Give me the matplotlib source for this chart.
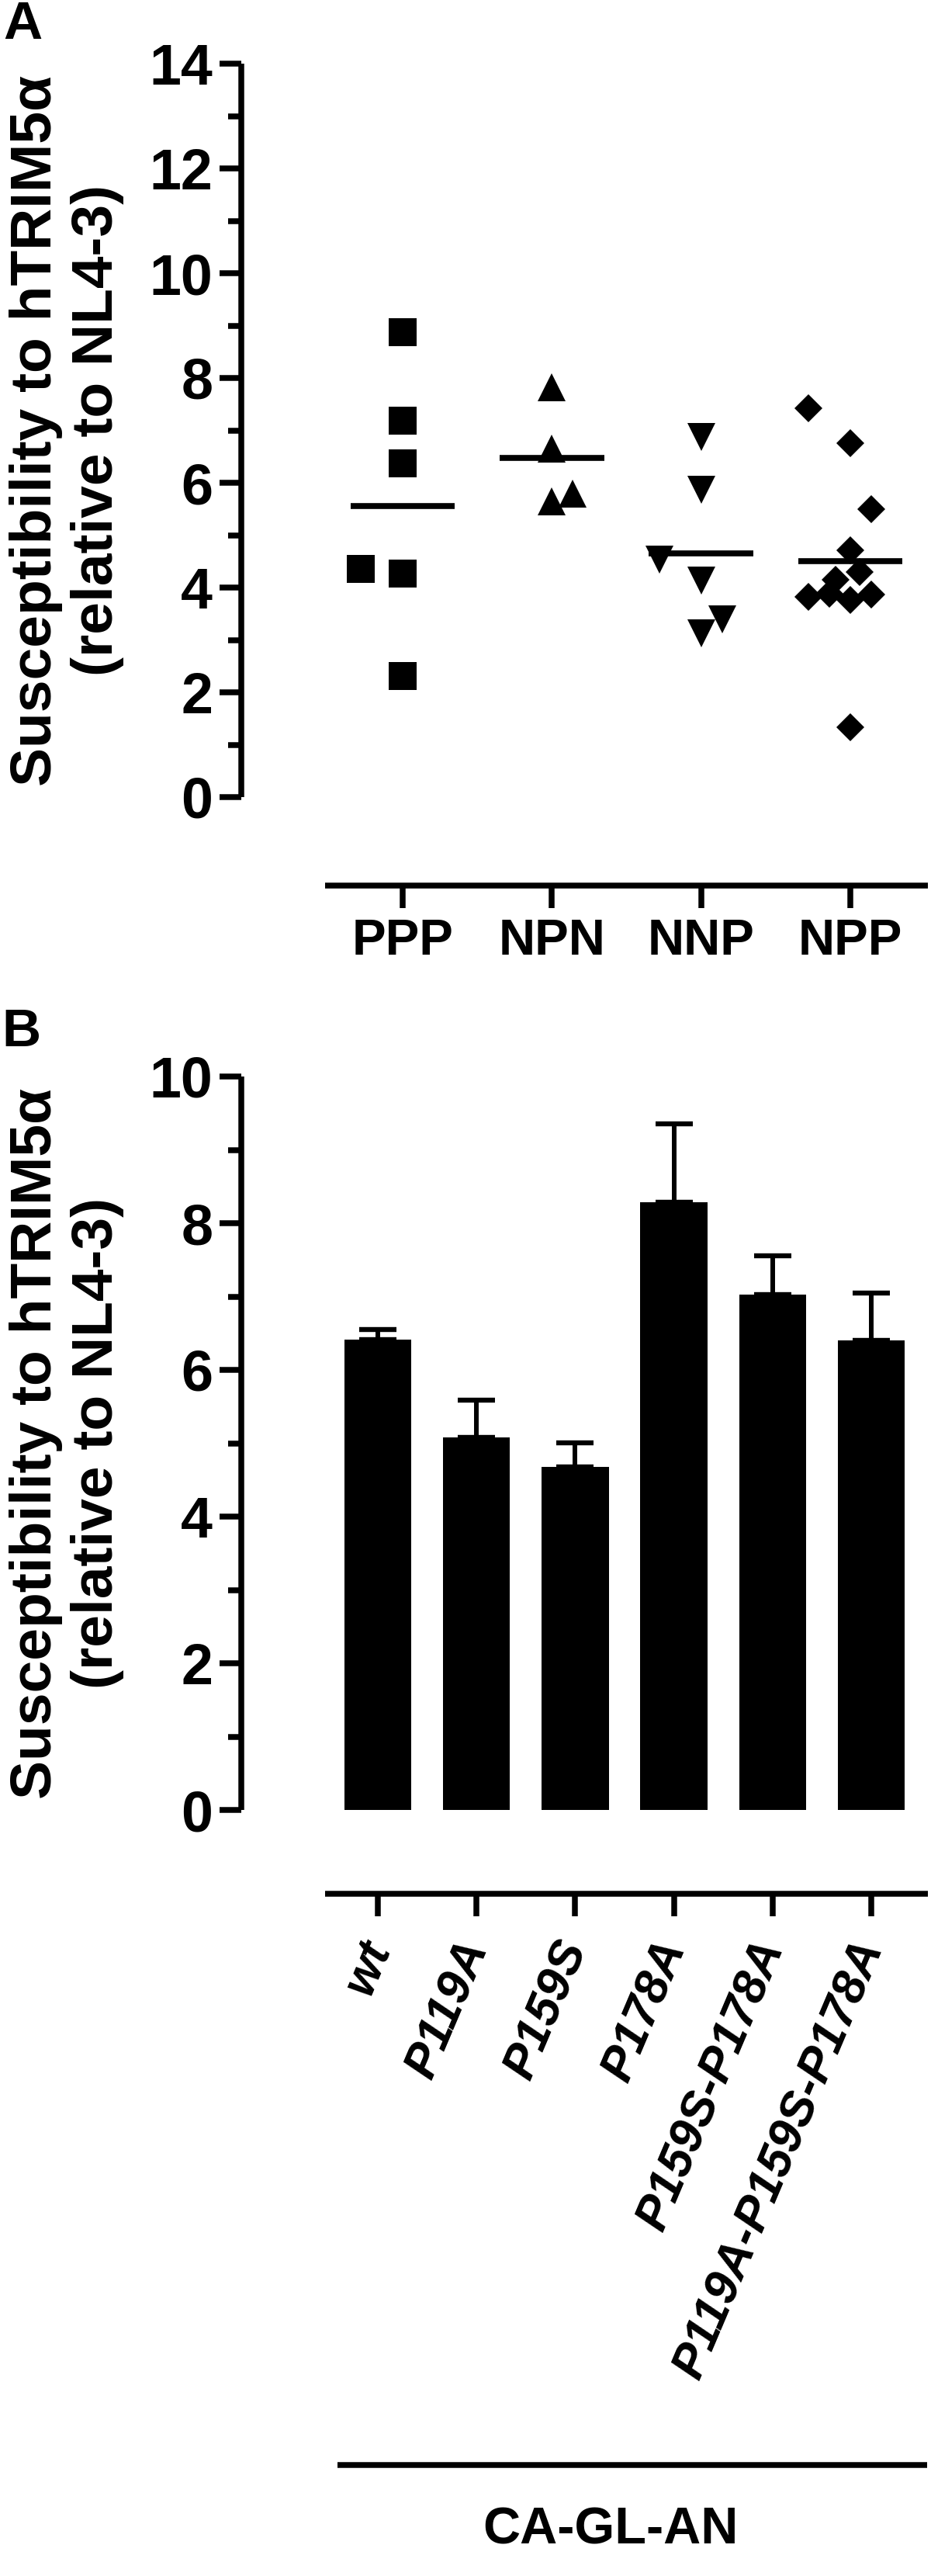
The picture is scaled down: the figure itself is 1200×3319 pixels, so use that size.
import matplotlib
matplotlib.use('Agg')
import matplotlib.pyplot as plt
import numpy as np
from matplotlib.ticker import MultipleLocator

plt.rcParams['font.family'] = ['Liberation Sans', 'DejaVu Sans']
plt.rcParams['font.weight'] = 'bold'

# panel A: susceptibility of each variant group (dot plot with mean)
groups = ['PPP', 'NPN', 'NNP', 'NPP']
ppp = [8.87, 7.18, 6.37, 4.36, 4.26, 2.31]
npn = [7.82, 6.65, 5.64, 5.79]
nnp = [6.88, 5.86, 4.54, 4.14, 3.39, 3.12]
npp = [7.42, 6.75, 5.49, 4.71, 4.30, 4.15, 3.88, 3.86, 3.82, 3.76, 1.33]
# sideways scatter of overlapping points (category units)
ppp_dx = [0, 0, 0, -0.28, 0, 0]
npn_dx = [0, 0, 0, 0.14]
nnp_dx = [0, 0, -0.28, 0, 0.14, 0]
npp_dx = [-0.28, 0, 0.14, 0, 0.06, -0.10, -0.14, 0.14, -0.28, 0, 0]

# panel B: CA-GL-AN mutants, mean + SEM
mutants = ['wt', 'P119A', 'P159S', 'P178A', 'P159S-P178A', 'P119A-P159S-P178A']
means = [6.41, 5.08, 4.68, 8.29, 7.03, 6.40]
sems = [0.14, 0.51, 0.33, 1.06, 0.53, 0.65]

W, H = 1200, 3319
fig = plt.figure(figsize=(W / 100, H / 100), dpi=100)


def rect(l, t, r, b):
    return [l / W, 1 - b / H, (r - l) / W, (b - t) / H]


LW = 5.4

axA = fig.add_axes(rect(311, 82, 1196, 1027))
axB = fig.add_axes(rect(311, 1387, 1196, 2332))

# spines first: moving a spine resets the ticks
axA.spines['bottom'].set_position(('outward', 114 * 0.72))
axB.spines['bottom'].set_position(('outward', 108 * 0.72))

for ax in (axA, axB):
    for s in ('top', 'right'):
        ax.spines[s].set_visible(False)
    for s in ('left', 'bottom'):
        ax.spines[s].set_linewidth(LW)
        ax.spines[s].set_capstyle('butt')
    ax.tick_params(axis='y', which='major', length=20, width=LW,
                   labelsize=53, pad=6.5)
    ax.tick_params(axis='y', which='minor', length=12, width=LW)
    ax.tick_params(axis='x', which='major', length=21, width=LW, pad=9)
    ax.yaxis.set_major_locator(MultipleLocator(2))
    ax.yaxis.set_minor_locator(MultipleLocator(1))
axB.tick_params(axis='x', pad=24)

# ---- panel A
series = [ppp, npn, nnp, npp]
offsets = [ppp_dx, npn_dx, nnp_dx, npp_dx]
markers = [('s', 26.6), ('^', 26), ('v', 26), ('D', 18.4)]
for i, (vals, dx, (m, ms)) in enumerate(zip(series, offsets, markers)):
    xs = i + np.array(dx)
    axA.plot(xs, vals, linestyle='none', marker=m, markersize=ms,
             color='black', markeredgewidth=0, clip_on=False, zorder=3)
    mu = np.mean(vals)
    axA.hlines(mu, i - 0.35, i + 0.35, color='black', lw=5.5, zorder=4)

axA.set_xlim(-1.0815, 3.52)
axA.set_ylim(0, 14)
axA.set_xticks(range(len(groups)))
axA.set_xticklabels(groups, fontsize=47, fontweight='bold')
axA.spines['bottom'].set_bounds(-0.52, 3.52)

# ---- panel B
xb = np.arange(len(mutants))
axB.bar(xb, means, width=0.68, color='black', zorder=2)
axB.errorbar(xb, means, yerr=[np.zeros(len(sems)), sems], fmt='none',
             ecolor='black', elinewidth=4.3, capsize=17.6, capthick=4.6,
             zorder=1)
axB.set_xlim(-1.384, 5.574)
axB.set_ylim(0, 10)
axB.set_xticks(xb)
axB.set_xticklabels(mutants, fontsize=45, fontweight='bold', style='italic',
                    rotation=67, ha='right', va='center',
                    rotation_mode='anchor')
axB.spines['bottom'].set_bounds(-0.535, 5.574)

for ax in (axA, axB):
    for lab in ax.get_yticklabels():
        lab.set_fontweight('bold')

ylab = 'Susceptibility to hTRIM5\u03b1\n(relative to NL4-3)'
fig.text(86 / W, 1 - (82 + 1027) / 2 / H, ylab, rotation=90, ha='center',
         va='center', multialignment='center', fontsize=54, linespacing=1.2)
fig.text(86 / W, 1 - (1387 + 2332) / 2 / H, ylab, rotation=90, ha='center',
         va='center', multialignment='center', fontsize=54, linespacing=1.2)

fig.text(4 / W, 1 - 0 / H, 'A', fontsize=50, ha='left', va='top')
fig.text(2 / W, 1 - 1298 / H, 'B', fontsize=50, ha='left', va='top')

# group bracket under the mutant names
tr = axB.get_xaxis_transform()
y_line = (2332 - 3176) / 945
axB.plot([-0.41, 5.566], [y_line, y_line], transform=tr, color='black',
         lw=LW, clip_on=False, solid_capstyle='butt')
axB.text(2.36, (2332 - 3260) / 945, 'CA-GL-AN', transform=tr, ha='center',
         va='center', fontsize=48, fontweight='bold')

fig.savefig('out.png', dpi=100)
